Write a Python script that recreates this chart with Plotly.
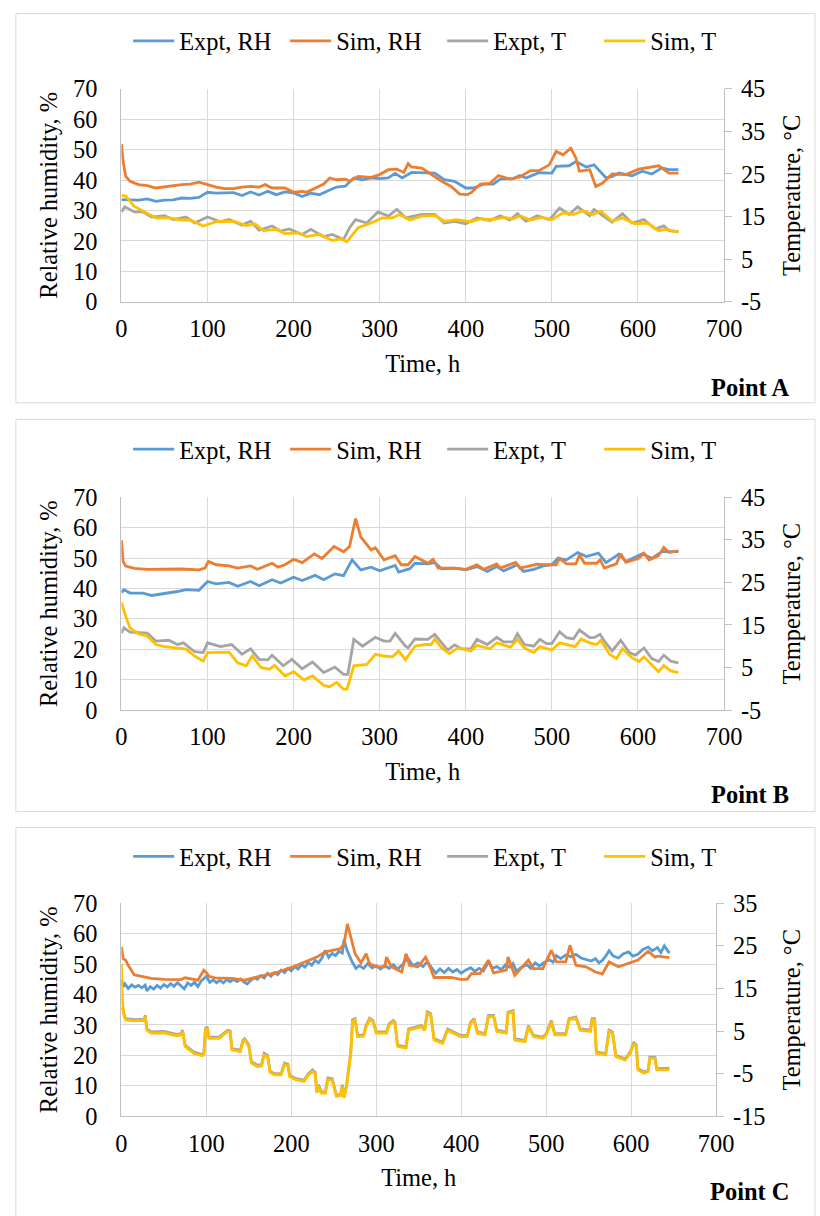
import plotly.graph_objects as go

# ---------------- DATA ----------------
# Point A
tA_rh_e = [0,10,20,30,40,50,60,70,80,90,
           100,110,120,130,140,150,160,170,180,190,
           200,210,220,230,240,250,260,270,280,290,
           300,310,318,326,337,349,364,375,387,400,
           409,421,432,440,455,463,470,485,500,505,
           520,528,540,549,563,570,578,593,605,616,
           628,636,647]
rhA_e = [33.6,33.4,33.4,33.8,33.0,33.4,33.5,34.1,34.0,34.3,
         36.0,35.7,35.7,35.9,34.9,36.1,35.1,36.3,35.2,36.1,
         35.8,34.6,35.7,35.2,36.5,37.7,38.0,40.7,40.1,40.7,
         40.5,40.7,42.2,40.7,42.5,42.5,42.3,40.1,39.6,37.4,
         37.4,38.7,38.7,40.3,40.5,41.5,40.7,42.4,42.3,44.5,
         44.7,46.1,44.3,45.0,40.7,41.2,42.3,41.4,42.9,42.0,
         44.0,43.4,43.4]

tA_rh_s = [0,2,5,10,20,30,40,50,60,70,
           80,90,100,110,120,130,140,150,160,167,
           175,190,200,210,215,225,235,242,250,260,
           265,275,290,300,310,320,328,333,337,349,
           360,372,383,393,402,407,417,428,438,451,
           463,475,485,497,505,513,522,528,532,544,
           551,559,570,586,601,624,636,647]
rhA_s = [51.8,46.0,41.2,39.6,38.5,38.2,37.4,37.8,38.2,38.5,
         38.7,39.3,38.5,37.7,37.2,37.2,37.7,37.9,37.7,38.5,
         37.4,37.4,36.0,36.3,36.0,37.4,38.7,40.7,40.1,40.3,
         39.6,41.2,40.9,41.8,43.4,43.6,42.5,45.4,44.3,43.9,
         41.8,39.6,37.9,35.4,35.2,36.0,38.7,38.9,41.5,40.3,
         41.0,43.1,43.1,45.0,49.4,48.3,50.5,47.2,42.9,43.4,
         37.9,39.0,42.0,41.8,43.6,44.7,42.3,42.3]

tA_t_e = [0,4,15,25,35,50,60,75,85,100,
          115,125,140,150,160,175,185,195,210,220,
          235,245,258,265,272,285,298,310,320,330,
          349,364,375,387,400,413,428,440,451,460,
          470,483,497,509,520,530,544,549,570,582,
          593,607,620,630,636,647]
TA_e = [16.1,17.3,16.1,16.1,14.9,15.2,14.3,14.9,13.5,14.9,
        13.8,14.3,13.0,13.9,11.8,12.8,11.6,12.1,10.8,12.0,
        10.3,10.8,9.6,12.4,14.3,13.5,16.1,15.1,16.7,14.7,
        15.5,15.5,13.5,13.9,13.3,14.7,14.1,15.2,14.2,15.7,
        13.9,15.2,14.3,17.0,15.5,17.3,15.2,16.7,13.7,15.7,
        13.5,14.3,12.1,12.8,11.7,11.4]

tA_t_s = [0,5,15,25,40,55,70,80,95,110,
          130,145,155,165,180,190,205,215,230,245,
          255,262,275,290,303,315,323,335,349,364,
          375,389,406,417,432,444,455,463,475,488,
          500,513,525,536,548,557,570,582,597,611,
          624,632,640,647]
TA_s = [20.0,19.8,17.4,16.3,14.7,14.7,14.2,14.2,12.8,13.8,
        13.9,12.9,13.3,11.7,12.0,11.0,11.2,10.3,10.8,9.4,
        9.8,9.1,12.4,13.5,14.7,14.7,15.5,14.2,15.1,15.3,
        13.9,14.3,13.8,14.5,14.3,14.8,14.5,15.2,14.2,14.8,
        14.3,15.9,15.5,16.4,15.5,16.3,13.9,14.7,13.3,13.5,
        11.7,12.0,11.7,11.4]

# Point B
tB_rh_e = [0,3,10,25,35,50,65,75,90,100,
           110,125,135,150,160,175,185,200,210,225,
           235,248,258,268,278,290,300,318,322,335,
           341,356,364,372,387,400,413,425,436,444,
           460,467,479,490,500,507,517,530,540,554,
           563,578,586,605,616,628,647]
rhB_e = [38.7,39.6,38.5,38.5,37.7,38.3,39.0,39.6,39.4,42.3,
         41.5,42.0,40.7,42.3,40.9,42.9,41.8,43.7,42.6,44.3,
         42.9,44.8,44.2,49.4,46.1,47.0,45.8,47.6,45.4,46.5,
         48.3,48.1,48.5,46.5,46.7,46.1,47.2,45.6,47.2,45.8,
         47.8,45.6,46.3,47.4,47.8,49.9,49.4,51.8,50.5,51.6,
         48.5,51.3,48.9,51.4,49.9,52.1,52.1]

tB_rh_s = [0,2,5,15,30,50,70,90,97,101,
           110,125,135,150,158,175,182,190,200,210,
           224,233,247,258,265,272,278,290,295,305,
           318,325,333,341,356,362,368,387,400,413,
           421,436,440,458,463,483,490,505,509,517,
           528,532,538,552,556,561,575,580,586,601,
           607,613,624,630,636,647]
rhB_s = [55.9,48.9,47.4,46.6,46.3,46.3,46.4,46.1,46.7,48.9,
         47.8,47.4,46.7,47.4,46.3,48.3,47.0,47.8,49.6,48.5,
         51.4,49.9,53.8,52.1,53.8,63.0,57.0,52.7,53.4,49.4,
         50.8,47.8,47.8,50.5,48.3,49.6,46.7,46.7,46.3,47.8,
         46.3,48.1,46.7,48.6,46.7,48.0,47.8,47.8,49.9,48.1,
         48.1,51.0,48.3,48.3,49.4,46.7,48.1,51.4,48.6,49.9,
         51.6,49.4,50.8,53.5,51.8,52.4]

tB_t_e = [0,3,10,30,40,55,65,72,85,95,
          100,115,128,140,150,160,170,175,188,198,
          210,222,235,248,258,263,270,280,295,305,
          312,318,330,333,341,356,364,372,379,387,
          395,406,413,425,436,444,455,460,468,479,
          486,494,500,509,517,525,532,544,549,556,
          561,570,580,590,597,607,616,624,630,638,
          647]
TB_e = [13.1,14.3,13.3,13.1,11.2,11.4,10.4,10.8,8.7,8.5,
        10.8,9.9,10.4,8.1,9.4,6.9,6.8,7.9,5.4,6.9,
        4.7,6.3,3.8,5.1,3.4,3.4,11.6,10.0,12.1,11.2,
        11.2,13.0,10.0,9.6,11.7,11.6,12.8,10.8,9.1,10.3,
        9.4,9.4,11.6,10.4,12.1,11.0,11.0,12.9,10.4,10.0,
        11.6,10.6,10.6,13.4,12.0,11.7,13.8,12.0,12.0,12.8,
        11.2,8.9,11.4,8.5,7.9,9.6,7.1,6.4,7.9,6.5,
        6.1]

tB_t_s = [0,5,10,20,30,40,50,60,70,75,
          85,95,100,115,125,135,145,152,162,172,
          178,190,200,212,222,235,242,250,258,262,
          270,285,295,305,315,322,330,333,341,352,
          360,364,372,381,391,406,413,428,436,452,
          460,468,479,486,500,509,527,534,544,552,
          557,567,575,582,593,601,607,619,624,630,
          638,647]
TB_s = [20.3,17.0,14.3,12.9,12.4,10.4,9.9,9.6,9.3,9.3,
        7.7,6.5,8.5,8.5,8.6,6.1,5.4,7.7,5.0,4.6,
        5.5,3.0,4.0,2.1,3.0,0.8,0.5,1.5,-0.1,-0.1,
        5.4,5.7,8.1,7.7,7.5,8.9,6.8,7.7,10.0,10.4,
        10.4,11.7,9.6,8.3,9.6,8.9,10.2,9.4,10.8,9.8,
        11.6,9.6,8.5,9.9,9.1,10.8,9.9,11.7,10.8,10.4,
        11.4,8.1,7.1,9.4,7.3,6.4,7.5,5.0,4.0,5.5,
        4.2,3.8]

# Point C
tC_rh_e = [0,2,4,8,12,16,20,24,28,30,
           34,38,42,46,50,54,58,62,66,70,
           74,78,82,86,90,94,97,100,104,108,
           112,116,120,124,128,132,136,140,144,148,
           152,156,160,164,168,172,176,180,184,188,
           192,196,200,204,208,212,216,220,224,228,
           232,236,240,244,248,252,256,260,262,265,
           268,272,276,280,285,290,295,300,305,310,
           315,320,325,330,337,343,349,355,360,365,
           370,375,380,385,390,395,400,405,411,416,
           421,426,432,437,442,447,452,457,461,465,
           470,477,482,487,492,498,504,508,512,517,
           523,529,535,541,547,553,558,562,566,570,
           574,579,585,591,597,602,608,614,620,625,
           631,635,639,642,645]
rhC_e = [45.0,42.5,43.5,42.0,43.2,42.4,43.0,42.2,43.1,41.2,
         42.6,41.8,43.0,42.1,43.3,42.5,43.6,42.7,43.9,42.8,
         41.9,43.8,43.0,44.0,42.6,44.5,45.2,46.0,44.0,44.8,
         43.9,44.7,43.8,44.9,44.2,45.0,44.3,45.1,44.2,43.5,
         44.6,45.5,45.0,46.2,45.4,47.0,46.0,47.2,46.5,48.0,
         47.2,48.6,47.8,49.2,48.4,49.8,49.0,50.5,49.6,51.2,
         50.4,52.0,54.5,52.2,53.5,52.8,54.2,53.6,58.0,55.0,
         53.0,50.5,48.6,49.5,48.6,50.2,48.8,49.4,48.4,49.6,
         48.6,49.8,48.4,49.6,52.0,49.5,50.4,49.2,50.8,49.0,
         47.0,48.4,47.2,48.6,47.4,48.2,47.0,48.0,48.8,47.6,
         48.6,47.8,50.6,48.6,49.2,48.2,49.8,49.0,50.2,47.6,
         48.8,49.8,48.6,50.4,49.4,50.6,51.4,50.6,52.8,51.8,
         53.0,52.4,53.2,52.0,51.6,51.0,51.8,50.4,51.2,52.6,
         54.4,52.6,52.0,53.4,54.0,52.6,53.2,54.8,55.6,54.4,
         55.4,53.8,56.0,54.6,53.6]

tC_rh_s = [0,2,5,8,15,25,35,50,70,75,
           90,97,100,103,110,130,145,160,170,180,
           200,215,230,240,250,258,262,266,270,275,
           282,288,292,300,310,312,318,330,335,339,
           349,358,364,368,388,399,407,412,422,432,
           438,453,455,463,479,485,496,506,512,523,
           528,535,547,558,566,574,585,597,603,608,
           620,628,631,639,645]
rhC_s = [55.6,51.8,51.3,49.6,46.5,45.8,45.3,45.0,44.9,45.5,
         44.7,48.0,47.2,46.0,45.5,45.3,44.7,45.8,46.3,47.0,
         48.9,50.7,52.3,54.0,54.5,55.1,56.7,63.2,58.9,53.4,
         50.4,53.4,50.2,49.1,49.1,52.3,49.1,47.4,53.4,49.6,
         49.1,52.3,48.5,45.6,45.6,45.0,45.0,46.9,46.9,51.3,
         47.1,48.0,52.3,46.3,51.3,48.5,48.5,54.5,50.7,50.7,
         56.2,49.6,49.1,47.4,46.7,50.7,49.1,50.2,50.7,51.3,
         54.2,52.3,52.6,52.3,52.1]

tC_t = [0,1,3,5,15,27,28,30,35,50,
        65,70,72,75,80,85,95,97,99,101,
        103,115,120,125,128,130,140,143,145,150,
        153,160,165,168,172,175,180,188,192,196,
        198,205,215,220,225,228,230,232,235,240,
        243,248,250,253,258,260,262,265,267,270,
        272,275,278,285,288,292,296,300,312,315,
        320,322,325,335,338,345,353,357,360,364,
        368,378,384,391,399,407,411,415,419,428,
        432,438,442,453,455,461,463,475,479,485,
        496,500,506,510,523,527,535,540,552,554,
        557,559,570,574,578,582,593,599,603,606,
        608,615,620,622,628,630,639,645]
TC_e = [9.9,10.5,9.0,7.9,7.7,7.8,8.7,5.5,4.8,4.9,
        4.2,4.4,5.2,1.7,0.9,0.1,-0.5,-0.2,5.6,6.0,
        3.6,3.6,4.4,5.2,5.0,0.9,0.5,2.8,3.2,1.7,
        -2.2,-3.0,-2.9,-0.2,-0.7,-4.4,-5.0,-5.0,-2.5,-2.8,
        -5.4,-6.1,-6.5,-5.0,-4.1,-4.7,-9.2,-7.6,-9.2,-9.3,
        -6.0,-6.2,-7.7,-10.0,-9.9,-7.6,-10.4,-7.7,-4.6,0.2,
        7.6,7.9,4.0,4.1,6.3,8.0,7.5,4.8,4.8,6.7,
        7.5,7.1,1.7,1.3,5.5,5.9,6.3,5.5,9.5,9.1,
        3.2,2.4,5.5,4.8,4.0,4.0,7.1,7.9,4.8,4.4,
        8.7,8.7,5.2,4.8,9.4,9.8,3.2,2.8,6.3,4.0,
        3.6,4.4,7.5,4.4,4.4,7.9,8.3,5.5,5.2,7.9,
        7.9,0.1,-0.3,5.2,4.8,-0.7,-1.5,0.1,2.4,1.7,
        -3.8,-4.6,-4.2,-1.1,-1.1,-3.8,-3.8,-3.7]
TC_s = [20.8,12.3,8.8,7.6,7.4,7.5,8.4,5.2,4.5,4.6,
        3.9,4.1,4.9,1.4,0.6,-0.2,-0.8,-0.5,5.2,5.6,
        3.3,3.3,4.1,4.9,4.7,0.6,0.2,2.5,2.9,1.4,
        -2.5,-3.3,-3.2,-0.6,-1.0,-4.7,-5.3,-5.3,-2.9,-3.1,
        -5.7,-6.4,-6.8,-5.3,-4.5,-5.0,-9.5,-8.0,-9.5,-9.6,
        -6.4,-6.5,-8.0,-10.3,-10.2,-8.0,-10.7,-8.0,-4.9,-0.2,
        7.2,7.6,3.7,3.8,6.0,7.7,7.2,4.5,4.5,6.4,
        7.2,6.8,1.4,1.0,5.2,5.6,6.0,5.2,9.1,8.8,
        2.9,2.1,5.2,4.5,3.7,3.7,6.8,7.6,4.5,4.1,
        8.4,8.4,4.9,4.5,9.1,9.5,2.9,2.5,6.0,3.7,
        3.3,4.1,7.2,4.1,4.1,7.6,8.0,5.2,4.9,7.6,
        7.6,-0.2,-0.6,4.9,4.5,-1.0,-1.8,-0.2,2.1,1.4,
        -4.1,-4.9,-4.5,-1.4,-1.4,-4.1,-4.1,-4.1]

series_names = ["Expt, RH", "Sim, RH", "Expt, T", "Sim, T"]
panel_labels = ["Point A", "Point B", "Point C"]
x_ticks = [0, 100, 200, 300, 400, 500, 600, 700]
rh_ticks = [0, 10, 20, 30, 40, 50, 60, 70]
t_ticks = [[-5, 5, 15, 25, 35, 45], [-5, 5, 15, 25, 35, 45], [-15, -5, 5, 15, 25, 35]]

# ---------------- STYLE / GEOMETRY ----------------
# The page is photographed in a viewport slightly wider than the figure and
# fitted to 820x1216, so design coordinates
# are mapped into page pixels here.
W, H = 835, 1216
S = 820 / 835
OY = (1216 - 1216 * S) / 2

def dx(X):
    return X / S

def dy(Y):
    return (Y - OY) / S

def px(X):  # picture x -> paper fraction
    return dx(X) / W

def py(Y):  # picture y -> paper fraction
    return 1 - dy(Y) / H

FONT = "'Liberation Serif', 'Times New Roman', 'DejaVu Serif', serif"
FS = 24 / S
colors = ["#5B9BD5", "#ED7D31", "#A5A5A5", "#FFC000"]
GRID = "#D9D9D9"
AXIS = "#BFBFBF"

def tfont():
    return dict(family=FONT, size=FS, color="black")

panels = [
    dict(top=87, bot=301, left=116.7, right=726, leg=39, label=387, box=(11.5, 402.5)),
    dict(top=497.3, bot=711, left=116.7, right=726, leg=449, label=796, box=(419, 813)),
    dict(top=905, bot=1119, left=116.7, right=718, leg=858, label=1195, box=(829, 1240)),
]

data = [
    [(tA_rh_e, rhA_e), (tA_rh_s, rhA_s), (tA_t_e, TA_e), (tA_t_s, TA_s)],
    [(tB_rh_e, rhB_e), (tB_rh_s, rhB_s), (tB_t_e, TB_e), (tB_t_s, TB_s)],
    [(tC_rh_e, rhC_e), (tC_rh_s, rhC_s), (tC_t, TC_e), (tC_t, TC_s)],
]

fig = go.Figure()
layout = dict(
    width=W, height=H, autosize=False,
    margin=dict(l=0, r=0, t=0, b=0),
    paper_bgcolor="white", plot_bgcolor="white",
    font=tfont(),
    showlegend=True,
)
shapes, annotations = [], []

for i, (p, d) in enumerate(zip(panels, data)):
    xa = "x" if i == 0 else f"x{i+1}"
    ya1 = f"y{2*i+1}" if i > 0 else "y"
    ya2 = f"y{2*i+2}"
    xkey = "xaxis" if i == 0 else f"xaxis{i+1}"
    y1key = "yaxis" if i == 0 else f"yaxis{2*i+1}"
    y2key = f"yaxis{2*i+2}"
    legkey = "legend" if i == 0 else f"legend{i+1}"

    xdom = [px(p["left"]), px(p["right"])]
    ydom = [py(p["bot"]), py(p["top"])]
    tt_ = t_ticks[i]

    layout[xkey] = dict(
        domain=xdom, anchor=ya1, range=[x_ticks[0], x_ticks[-1]],
        tickmode="array", tickvals=x_ticks, ticktext=[str(v) for v in x_ticks],
        showgrid=True, gridcolor=GRID, gridwidth=1,
        showline=True, linecolor=AXIS, linewidth=1, zeroline=False,
        ticks="", ticklabelstandoff=5, tickfont=tfont(),
        title=dict(text="Time, h", font=tfont(), standoff=13),
    )
    layout[y1key] = dict(
        domain=ydom, anchor=xa, range=[rh_ticks[0], rh_ticks[-1]],
        tickmode="array", tickvals=rh_ticks, ticktext=[str(v) for v in rh_ticks],
        showgrid=True, gridcolor=GRID, gridwidth=1,
        showline=True, linecolor=AXIS, linewidth=1, zeroline=False,
        ticks="", ticklabelstandoff=18, tickfont=tfont(),
        title=dict(text="Relative humidity, %", font=tfont(), standoff=8),
    )
    layout[y2key] = dict(
        domain=ydom, anchor=xa, overlaying=ya1, side="right",
        range=[tt_[0], tt_[-1]],
        tickmode="array", tickvals=tt_, ticktext=[str(v) for v in tt_],
        showgrid=False, showline=True, linecolor=AXIS, linewidth=1, zeroline=False,
        ticks="outside", ticklen=7, tickcolor=AXIS, ticklabelstandoff=4,
        tickfont=tfont(),
        title=dict(text="Temperature, °C", font=tfont(), standoff=18),
    )
    layout[legkey] = dict(
        orientation="h", x=px(441), xanchor="center", y=py(p["leg"]), yanchor="middle",
        font=tfont(), bgcolor="rgba(0,0,0,0)",
        traceorder="normal", itemwidth=41, entrywidth=101, entrywidthmode="pixels",
    )

    for k, ((tt, vv), name, col) in enumerate(zip(d, series_names, colors)):
        fig.add_trace(go.Scatter(
            x=tt, y=vv, name=name, mode="lines",
            line=dict(color=col, width=2.75 / S),
            xaxis=xa, yaxis=(ya1 if k < 2 else ya2),
            legend=legkey,
        ))

    shapes.append(dict(type="rect", xref="paper", yref="paper",
                       x0=px(10), x1=px(818), y0=py(p["box"][1]), y1=py(p["box"][0]),
                       line=dict(color=GRID, width=1), fillcolor="rgba(0,0,0,0)", layer="below"))
    annotations.append(dict(text=f"<b>{panel_labels[i]}</b>", xref="paper", yref="paper",
                            x=px(794), y=py(p["label"]), xanchor="right", yanchor="middle",
                            showarrow=False, font=tfont()))

layout["shapes"] = shapes
layout["annotations"] = annotations
fig.update_layout(**layout)

page_js = (
    "document.documentElement.style.margin='0';"
    "document.documentElement.style.overflow='hidden';"
    "document.body.style.margin='0';"
    "document.body.style.overflow='hidden';"
    "var gd=document.getElementById('{plot_id}');"
    "gd.style.position='fixed';gd.style.left='0px';gd.style.top='0px';"
)
fig.write_html("out.html", config={"displayModeBar": False}, post_script=page_js)
